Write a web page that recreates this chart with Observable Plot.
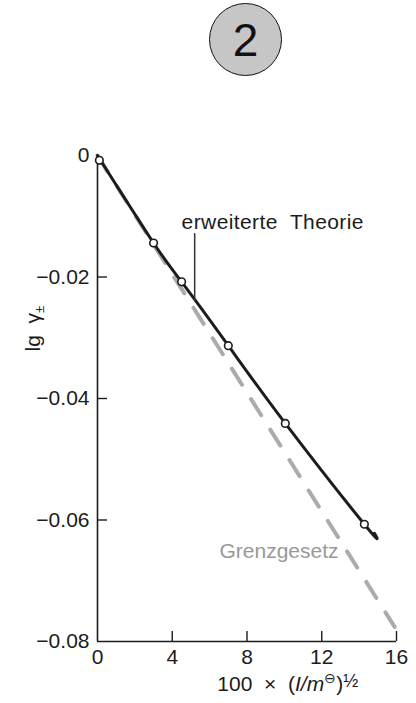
<!DOCTYPE html>
<html><head><meta charset="utf-8">
<script src="https://cdn.jsdelivr.net/npm/d3@7"></script>
<script src="https://cdn.jsdelivr.net/npm/@observablehq/plot@0.6"></script>
<style>
body{margin:0;background:#fff;font-family:"Liberation Sans",Arial,sans-serif;}
#badge{position:relative;height:80px;width:416px;}
#badge div{position:absolute;left:209px;top:3px;width:71px;height:71px;border:1.6px solid #111;border-radius:50%;background:#c6c6c6;display:flex;align-items:center;justify-content:center;font-size:46px;color:#111;font-family:"Liberation Sans",Arial,sans-serif;}
</style></head><body>
<div id="badge"><div>2</div></div>
<div id="chart"></div>
<script>
// ticks
const xTicks = [0, 4, 8, 12, 16];
const yTicks = [0, -0.02, -0.04, -0.06, -0.08];
// extended theory (solid curve)
const theoryX = [0, 3.0, 4.5, 7.0, 10.05, 14.28, 14.82];
const theoryY = [0, -0.0144, -0.0208, -0.0313, -0.0441, -0.0607, -0.0622];
// measured points (open circles)
const pointsX = [0.1, 3.0, 4.5, 7.0, 10.05, 14.28];
const pointsY = [-0.0008, -0.0144, -0.0208, -0.0313, -0.0441, -0.0607];
// limiting law (dashed)
const limitX = [0, 15.9];
const limitY = [0, -0.0776];
// annotation texts
const labelTheory = "erweiterte  Theorie";
const labelLimit = "Grenzgesetz";
const labelY = "lg γ±";
const labelX = "100 × (I/m⊖)½";

const theory = theoryX.map((x, i) => ({x, y: theoryY[i]}));
const points = pointsX.map((x, i) => ({x, y: pointsY[i]}));
const limit = limitX.map((x, i) => ({x, y: limitY[i]}));
const leader = [{x: 5.2, y: -0.0129}, {x: 5.2, y: -0.0239}];

const fmt = d => d === 0 ? "0" : "\u2212" + Math.abs(d).toFixed(2);
const ink = "#1c1c1c";

const chart = Plot.plot({
  width: 416, height: 623,
  marginTop: 75, marginBottom: 62, marginLeft: 97, marginRight: 20,
  style: {fontFamily: "'Liberation Sans', Arial, sans-serif", background: "#fff", color: ink},
  x: {domain: [0, 16], label: null},
  y: {domain: [-0.08, 0], label: null},
  marks: [
    Plot.line(limit, {x: "x", y: "y", stroke: "#ababab", strokeWidth: 4, strokeDasharray: "19,17"}),
    Plot.ruleX([0], {stroke: ink, strokeWidth: 1.6}),
    Plot.ruleY([-0.08], {stroke: ink, strokeWidth: 1.6}),
    Plot.axisY(yTicks, {tickSize: 0, tickPadding: 8, tickFormat: fmt, fontSize: 21, fill: ink, label: null}),
    Plot.axisY(yTicks.filter(v => v < 0 && v > -0.08), {tickSize: -10, text: null, label: null, stroke: ink, strokeWidth: 1.4}),
    Plot.axisX(xTicks, {tickSize: 0, tickPadding: 8, fontSize: 21, fill: ink, label: null}),
    Plot.axisX(xTicks.filter(v => v > 0), {tickSize: -10, text: null, label: null, stroke: ink, strokeWidth: 1.4}),
    Plot.line(theory, {x: "x", y: "y", stroke: ink, strokeWidth: 3, curve: "natural"}),
    Plot.line(leader, {x: "x", y: "y", stroke: "#333", strokeWidth: 1.5}),
    Plot.dot(points, {x: "x", y: "y", r: 3.8, fill: "#fff", stroke: ink, strokeWidth: 1.6}),
    Plot.text([labelTheory], {x: 4.5, y: -0.0110, text: d => d, textAnchor: "start", fontSize: 21, fill: ink}),
    Plot.text([labelLimit], {x: 12.9, y: -0.0652, text: d => d, textAnchor: "end", fontSize: 21, fill: "#999"}),
    Plot.text([labelY], {x: -3.45, y: -0.0285, text: d => d, rotate: -90, fontSize: 21, fill: ink}),
    Plot.text([labelX], {x: 10.18, y: -0.0870, text: d => d, fontSize: 21, fill: ink})
  ]
});
document.getElementById("chart").appendChild(chart);

function rich(el, parts) {
  const s = d3.select(el);
  s.text(null);
  parts.forEach(p => {
    const ts = s.append("tspan").text(p.t);
    if (p.italic) ts.attr("font-style", "italic");
    if (p.size) ts.attr("font-size", p.size);
    if (p.dy) ts.attr("dy", p.dy);
  });
}
d3.select(chart).selectAll("text").each(function() {
  const t = this.textContent;
  if (t === labelY) {
    rich(this, [{t: "lg  γ"}, {t: "±", size: 13, dy: 4}]);
  } else if (t === labelX) {
    rich(this, [{t: "100  ×  ("}, {t: "I/m", italic: true}, {t: "⊖", size: 14, dy: -8}, {t: ")", dy: 8}, {t: "½", size: 18, dy: -4}]);
  } else if (t === labelTheory) {
    d3.select(this).style("white-space", "pre").attr("letter-spacing", 0.4);
  }
});
</script>
</body></html>
